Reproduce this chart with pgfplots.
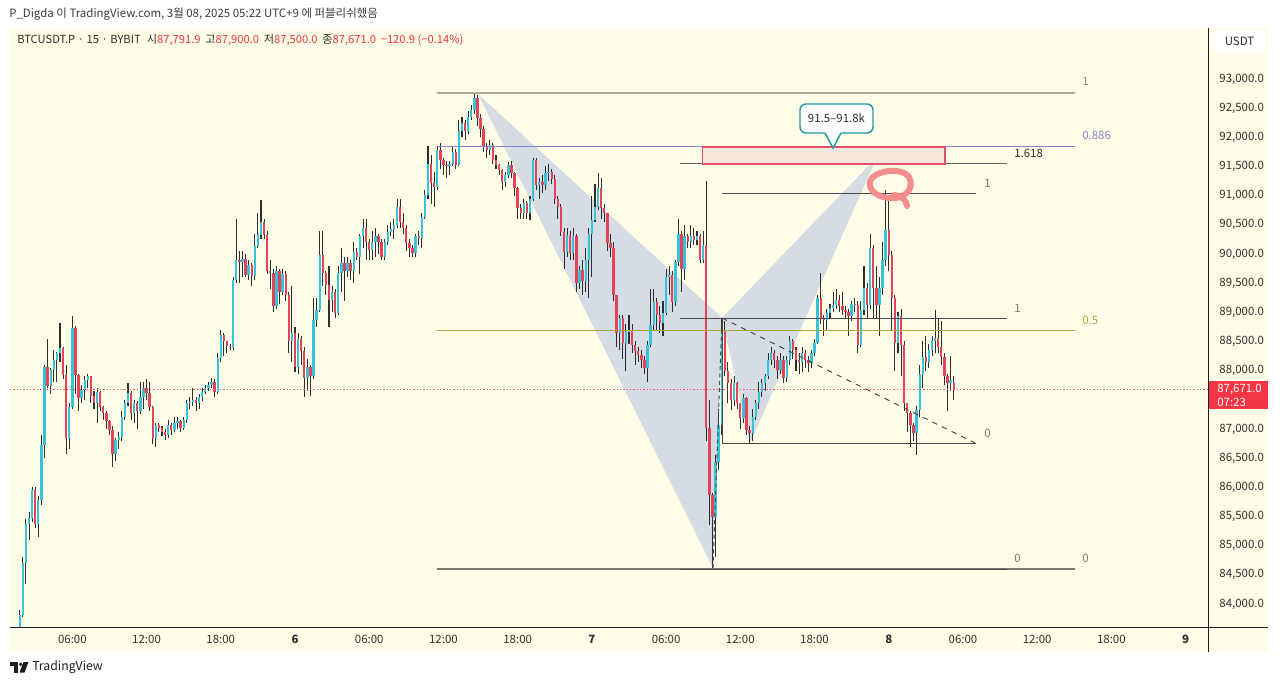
\documentclass[border=0pt]{standalone}
\usepackage{fontspec}
\setmainfont{Noto Sans CJK KR}
\usepackage{pgfplots}
\usepackage{pgfplotstable}
\pgfplotsset{compat=1.18}
\definecolor{bgy}{HTML}{FFFDE8}
\definecolor{upc}{HTML}{38C2D8}
\definecolor{dnc}{HTML}{E5435A}
\definecolor{wickc}{HTML}{2E2E2E}
\definecolor{txt}{HTML}{2E2E2E}
\definecolor{hdr}{HTML}{3C3C3C}
\definecolor{pr}{HTML}{F23645}
\definecolor{shadec}{HTML}{D5DCE3}
\definecolor{fibtop}{HTML}{A9A99B}
\definecolor{fib886}{HTML}{8585CC}
\definecolor{fib05}{HTML}{A8A83C}
\definecolor{fibzero}{HTML}{77776E}
\definecolor{dk}{HTML}{4A4A4A}
\definecolor{boxfill}{HTML}{F7E6DC}
\definecolor{boxred}{HTML}{E2506A}
\definecolor{callout}{HTML}{2596A2}
\definecolor{pinkq}{HTML}{F38D8E}
\definecolor{axl}{HTML}{1E1E1E}

\pgfplotstableread{
i o h l c
0 83610 83900 83500 83810
1 83810 84800 83780 84700
2 84700 85450 84350 85380
3 85380 85580 85100 85470
4 85470 86000 85400 85950
5 85950 86000 85300 85380
6 85380 85850 85150 85780
7 85780 86900 85700 86720
8 86720 88100 86500 88070
9 88070 88550 87700 87730
10 87730 88050 87600 88010
11 88010 88350 87800 88180
12 88180 88320 87800 88300
13 88300 88810 88150 88380
14 88380 88400 87850 87930
15 87930 88100 86580 86840
16 86840 87450 86650 87380
17 87380 88930 87350 88725
18 88725 88760 87600 87930
19 87930 87950 87300 87530
20 87530 87750 87450 87670
21 87670 87900 87500 87840
22 87840 87950 87700 87900
23 87900 87900 87450 87560
24 87560 87650 87350 87440
25 87440 87700 87100 87640
26 87640 87650 87300 87380
27 87380 87400 87150 87270
28 87270 87300 87000 87130
29 87130 87150 86900 86990
30 86990 87050 86350 86580
31 86580 86850 86450 86810
32 86810 86950 86650 86870
33 86870 87300 86800 87210
34 87210 87500 87150 87440
35 87440 87780 87400 87610
36 87610 87650 87150 87270
37 87270 87500 87100 87440
38 87440 87480 87000 87300
39 87300 87800 87250 87550
40 87550 87800 87350 87700
41 87700 87850 87500 87610
42 87610 87800 87300 87380
43 87380 87400 86750 86840
44 86840 87100 86700 87070
45 87070 87100 86950 87010
46 87010 87050 86880 86950
47 86950 87000 86820 86900
48 86900 87150 86850 87070
49 87070 87100 86900 86980
50 86980 87200 86950 87100
51 87100 87200 87000 87130
52 87130 87150 86950 87010
53 87010 87200 86980 87150
54 87150 87500 87100 87440
55 87440 87550 87350 87470
56 87470 87700 87400 87490
57 87490 87550 87300 87440
58 87440 87600 87350 87550
59 87550 87700 87480 87640
60 87640 87750 87600 87700
61 87700 87800 87650 87750
62 87750 87870 87700 87810
63 87810 87850 87550 87640
64 87640 88300 87600 88210
65 88210 88700 88150 88610
66 88610 88650 88250 88500
67 88500 88500 88300 88420
68 88420 88450 88350 88400
69 88400 89600 88350 89550
70 89550 90600 89500 89900
71 89900 90050 89500 89870
72 89870 90050 89600 89920
73 89920 90000 89600 89640
74 89640 89900 89550 89810
75 89810 89850 89450 89620
76 89620 90350 89550 90130
77 90130 90700 90100 90330
78 90330 90930 90250 90550
79 90550 90600 90250 90330
80 90330 90400 89650 89700
81 89700 89900 89400 89680
82 89680 89750 89000 89100
83 89100 89800 89050 89700
84 89700 89750 89150 89350
85 89350 89750 89300 89650
86 89650 89700 89200 89300
87 89300 89350 88300 88500
88 88500 89450 88150 88640
89 88640 88750 87980 88070
90 88070 88650 87950 88550
91 88550 88600 88100 88330
92 88330 88400 87550 87870
93 87870 88200 87650 88070
94 88070 88100 87560 87900
95 87900 89250 87850 88870
96 88870 89250 88750 89040
97 89040 90400 89000 89980
98 89980 90400 89450 89670
99 89670 89700 89300 89470
100 89470 89800 88750 89210
101 89210 89450 89000 89350
102 89350 89400 88900 88980
103 88980 89800 88950 89670
104 89670 90100 89350 89840
105 89840 89950 89200 89700
106 89700 89950 89600 89840
107 89840 89900 89550 89700
108 89700 90200 89500 90040
109 90040 90100 89900 89950
110 89950 90350 89650 90300
111 90300 90600 90100 90440
112 90440 90600 89900 90210
113 90210 90250 89900 90070
114 90070 90400 89900 90200
115 90200 90450 89950 90300
116 90300 90350 90000 90210
117 90210 90250 89900 89950
118 89950 90250 89900 90210
119 90210 90500 90150 90380
120 90380 90550 90300 90430
121 90430 90600 90250 90500
122 90500 90950 90450 90810
123 90810 90950 90450 90550
124 90550 90700 90350 90440
125 90440 90500 90050 90180
126 90180 90250 89950 90100
127 90100 90150 89950 90010
128 90010 90350 89950 90300
129 90300 90400 90150 90270
130 90270 90700 90100 90640
131 90640 91100 90600 91010
132 91010 91850 90950 91550
133 91550 91700 90850 91210
134 91210 91400 90800 91150
135 91150 91850 91100 91780
136 91780 91900 91450 91610
137 91610 91650 91350 91530
138 91530 91600 91300 91500
139 91500 91600 91350 91550
140 91550 91850 91500 91750
141 91750 91800 91450 91530
142 91530 92300 91500 92100
143 92100 92350 92000 92240
144 92240 92300 91950 92100
145 92100 92450 92050 92350
146 92350 92550 92300 92470
147 92470 92780 92400 92680
148 92680 92720 92200 92330
149 92330 92400 92000 92150
150 92150 92200 91750 91840
151 91840 91900 91650 91780
152 91780 91950 91700 91870
153 91870 91900 91550 91610
154 91610 91700 91450 91530
155 91530 91550 91350 91440
156 91440 91450 91100 91240
157 91240 91400 91150 91350
158 91350 91580 91300 91530
159 91530 91600 91300 91380
160 91380 91400 91000 91130
161 91130 91150 90600 90780
162 90780 90850 90600 90700
163 90700 90950 90600 90870
164 90870 90900 90600 90700
165 90700 91000 90580 90950
166 90950 91650 90900 91610
167 91610 91650 91100 91180
168 91180 91300 90950 91230
169 91230 91350 91050 91180
170 91180 91500 91100 91380
171 91380 91550 91250 91400
172 91400 91450 91200 91290
173 91290 91350 90850 90950
174 90950 91000 90600 90810
175 90810 90850 90300 90380
176 90380 90450 89750 90040
177 90040 90450 89950 90330
178 90330 90400 89900 90010
179 90010 90450 89900 90300
180 90300 90350 89350 89500
181 89500 89800 89400 89730
182 89730 89900 89300 89530
183 89530 90100 89350 89900
184 89900 90450 89250 90350
185 90350 91000 89600 90580
186 90580 91200 90550 90810
187 90810 91380 90750 91130
188 91130 91300 90600 90780
189 90780 90850 90550 90700
190 90700 90700 90050 90180
191 90180 90350 89950 90100
192 90100 90200 89200 89300
193 89300 89300 88400 88640
194 88640 88950 88350 88900
195 88900 88950 88200 88470
196 88470 88800 88000 88670
197 88670 88950 88450 88700
198 88700 88800 88300 88440
199 88440 88500 88100 88330
200 88330 88400 88150 88270
201 88270 88350 88050 88180
202 88180 88250 87950 88040
203 88040 88500 87800 88440
204 88440 89400 88400 88780
205 88780 89400 88700 89180
206 89180 89250 88700 88950
207 88950 89100 88650 88810
208 88810 89200 88600 88980
209 88980 89750 88950 89610
210 89610 89800 89300 89640
211 89640 89700 89000 89180
212 89180 89900 89100 89870
213 89870 90600 89800 90350
214 90350 90400 89350 89750
215 89750 90500 89550 90300
216 90300 90350 90100 90210
217 90210 90500 90100 90300
218 90300 90450 90150 90240
219 90240 90400 90150 90300
220 90300 90350 89850 89900
221 89900 90400 89850 90150
222 90150 91250 86800 87010
223 87010 87500 85350 85870
224 85870 85900 84600 85490
225 85490 86550 84800 86440
226 86440 87350 86300 87070
227 87070 88890 86900 88700
228 88700 88850 87900 88000
229 88000 88150 87440 87780
230 87780 87850 87330 87500
231 87500 87900 87400 87780
232 87780 87800 87350 87440
233 87440 87450 87000 87180
234 87180 87600 87100 87530
235 87530 87550 86900 86980
236 86980 87050 86750 86930
237 86930 87350 86800 87210
238 87210 87500 87150 87440
239 87440 87800 87350 87640
240 87640 87850 87550 87780
241 87780 87950 87650 87900
242 87900 88300 87850 88180
243 88180 88400 88100 88310
244 88310 88350 88050 88180
245 88180 88250 87850 88010
246 88010 88300 87950 88180
247 88180 88250 87780 87870
248 87870 88250 87800 88180
249 88180 88600 88100 88500
250 88500 88550 88200 88350
251 88350 88400 88000 88180
252 88180 88300 87950 88150
253 88150 88400 87980 88310
254 88310 88350 88050 88180
255 88180 88250 87980 88130
256 88130 88350 88050 88310
257 88310 88550 88250 88470
258 88470 89300 88450 89240
259 89240 89670 88800 88900
260 88900 88950 88600 88870
261 88870 89050 88700 88980
262 88980 89150 88900 89070
263 89070 89350 89000 89130
264 89130 89400 89050 89210
265 89210 89300 89000 89100
266 89100 89350 88950 89040
267 89040 89100 88900 89010
268 89010 89050 88600 88930
269 88930 89200 88850 89150
270 89150 89250 89000 89130
271 89130 89200 88300 88440
272 88440 89200 88400 89040
273 89040 89800 88950 89410
274 89410 89500 88900 89130
275 89130 90350 89050 90100
276 90100 90150 88900 89410
277 89410 89800 88900 89130
278 89130 89600 88600 89410
279 89410 90200 89300 89900
280 89900 91100 89800 90410
281 90410 90900 89700 89980
282 89980 90050 88700 89240
283 89240 89300 88000 88470
284 88470 89000 88300 88930
285 88930 89050 87900 88440
286 88440 88500 87300 87440
287 87440 87450 86950 87270
288 87270 87300 86700 87070
289 87070 87100 86800 86930
290 86930 87400 86550 87330
291 87330 88100 87200 87950
292 87950 88500 87700 88240
293 88240 88600 88000 88150
294 88150 88450 88050 88350
295 88350 88600 88250 88500
296 88500 89040 88300 88560
297 88560 88900 88300 88410
298 88410 88850 88100 88240
299 88240 88300 87750 87900
300 87900 87950 87300 87780
301 87780 88250 87650 87840
302 87792 87900 87500 87671
}\candles

\begin{document}
\begin{tikzpicture}
\fill[white] (0pt,0pt) rectangle (960pt,513.75pt);
\begin{scope}[shift={(0pt,513.75pt)}, x=0.75pt, y=-0.75pt]
  \fill[bgy] (10,28) rectangle (1268,652);
\end{scope}
\begin{axis}[
  at={(7.5pt,43.5pt)}, anchor=south west,
  scale only axis, width=898.5pt, height=450pt,
  xmin=0.96, xmax=97.81, ymin=83606, ymax=93891,
  scaled y ticks=false, scaled x ticks=false,
  axis line style={draw=none},
  tick style={draw=none}, major tick length=0pt,
  xtick={6,12,...,96},
  xticklabels={06:00,12:00,18:00,\textbf{6},06:00,12:00,18:00,\textbf{7},06:00,12:00,18:00,\textbf{8},06:00,12:00,18:00,\textbf{9}},
  ytick={84000,84500,85000,85500,86000,86500,87000,88000,88500,89000,89500,90000,90500,91000,91500,92000,92500,93000},
  yticklabels={{84,000.0},{84,500.0},{85,000.0},{85,500.0},{86,000.0},{86,500.0},{87,000.0},{88,000.0},{88,500.0},{89,000.0},{89,500.0},{90,000.0},{90,500.0},{91,000.0},{91,500.0},{92,000.0},{92,500.0},{93,000.0}},
  yticklabel pos=right,
  ticklabel style={font=\fontsize{8.6pt}{10pt}\selectfont, text=txt},
  yticklabel style={anchor=west, xshift=5pt},
  xticklabel style={anchor=center, yshift=-9pt},
]
% harmonic triangles
\fill[shadec] (38.79,92743) -- (57.79,84617) -- (58.52,88903) -- cycle;
\fill[shadec] (58.52,88903) -- (60.78,86760) -- (71.05,91663) -- cycle;
% wicks
\addplot[wickc, line width=0.8pt, mark=none,
  quiver={u=0, v={\thisrow{h}-\thisrow{l}}}]
  table[x expr=1.75+0.25*\thisrow{i}, y=l] {\candles};
% up bodies
\addplot[upc, line width=1.75pt, mark=none,
  restrict expr to domain={\thisrow{c}-\thisrow{o}}{0:100000},
  quiver={u=0, v={max(\thisrow{c}-\thisrow{o},15)}}]
  table[x expr=1.75+0.25*\thisrow{i}, y=o] {\candles};
% down bodies
\addplot[dnc, line width=1.75pt, mark=none,
  restrict expr to domain={\thisrow{o}-\thisrow{c}}{1:100000},
  quiver={u=0, v={\thisrow{o}-\thisrow{c}}}]
  table[x expr=1.75+0.25*\thisrow{i}, y=c] {\candles};
% fib 1
\draw[fibtop, line width=1.0pt] (35.48,92760) -- (87.06,92760);
\draw[fib886, line width=0.75pt] (35.48,91834) -- (87.06,91834);
\draw[fib05, line width=0.75pt] (35.48,88680) -- (87.06,88680);
\draw[fibzero, line width=0.8pt] (35.48,84600) -- (87.06,84600);
% fib 2
\draw[dk!85, line width=0.75pt] (55.12,91543) -- (81.56,91543);
\draw[dk, line width=0.75pt] (55.12,88886) -- (81.56,88886);
\draw[dk, line width=0.75pt] (55.12,84600) -- (81.56,84600);
% range lines
\draw[dk, line width=0.75pt] (58.52,91029) -- (79.05,91029);
\draw[dk, line width=0.75pt] (58.52,86760) -- (79.05,86760);
\draw[dk, line width=0.75pt] (58.52,88886) -- (58.52,86760);
% dashed lines
\draw[dk, line width=0.75pt, dash pattern=on 3pt off 2.5pt] (57.79,84617) -- (58.52,88903);
\draw[dk, line width=0.75pt, dash pattern=on 4pt off 4pt] (58.52,88903) -- (78.97,86760);
% target box
\filldraw[fill=boxfill, draw=boxred, line width=0.8pt] (56.98,91543) rectangle (76.55,91834);
% current price dotted line
\draw[pr!85, line width=0.75pt, dash pattern=on 0.9pt off 1.6pt] (0.96,87671) -- (97.81,87671);
\end{axis}
\begin{scope}[shift={(0pt,513.75pt)}, x=0.75pt, y=-0.75pt,
  every node/.style={inner sep=0pt, font=\fontsize{8.6pt}{10pt}\selectfont}]
  % axis separators
  \draw[axl, line width=0.75pt] (1208,28) -- (1208,652);
  \draw[axl, line width=0.75pt] (10,627) -- (1268,627);
  % header
  \node[anchor=west, text=hdr, font=\fontsize{8.6pt}{10pt}\selectfont] at (9,14) {P\_Digda 이 TradingView.com, 3월 08, 2025 05:22 UTC+9 에 퍼블리쉬했음};
  \node[anchor=west, text=txt, font=\fontsize{8.4pt}{10pt}\selectfont] at (17,40) {BTCUSDT.P · 15 · BYBIT\hspace{4.5pt}시{\color{pr}87,791.9}\hspace{3.5pt}고{\color{pr}87,900.0}\hspace{3.5pt}저{\color{pr}87,500.0}\hspace{3.5pt}종{\color{pr}87,671.0}\hspace{3.5pt}{\color{pr}−120.9 (−0.14\%)}};
  % USDT box
  \fill[white, rounded corners=3pt] (1213,30) rectangle (1266,52);
  \node[text=txt] at (1239.5,41) {USDT};
  % current price label
  \fill[pr] (1209,381) rectangle (1268,409);
  \node[anchor=west, text=white] at (1217,389) {87,671.0};
  \node[anchor=west, text=white] at (1217,402) {07:23};
  % fib labels
  \node[anchor=west, text=fibtop!80!black] at (1082,81) {1};
  \node[anchor=west, text=fib886] at (1082,135) {0.886};
  \node[anchor=west, text=fib05] at (1082,320) {0.5};
  \node[anchor=west, text=fibzero] at (1082,558) {0};
  \node[anchor=west, text=txt] at (1014,153) {1.618};
  \node[anchor=west, text=fibzero] at (1014,308) {1};
  \node[anchor=west, text=fibzero] at (1014,558) {0};
  \node[anchor=west, text=fibzero] at (984,183) {1};
  \node[anchor=west, text=fibzero] at (984,433) {0};
  % callout
  \draw[callout, line width=1.1pt, fill=white, rounded corners=4.5pt] (800,104) rectangle (873,133);
  \fill[white] (824.5,131.6) -- (833,148) -- (841.5,131.6) -- cycle;
  \draw[callout, line width=1.1pt, line join=miter] (825,133) -- (833,148) -- (841,133);
  \node[text=txt] at (836.5,118) {91.5–91.8k};
  % pink scribble
  \draw[pinkq, line width=4.5pt, line cap=round, line join=round]
    (870,186) .. controls (866,172) and (900,165) .. (909,177)
    .. controls (915,188) and (905,199) .. (892,198)
    .. controls (880,198) and (872,193) .. (870,186);
  \draw[pinkq, line width=4.5pt, line cap=round]
    (894,195) .. controls (902,196) and (906,200) .. (907,206);
  % bottom logo
  \fill[axl] (10,662) rectangle (17.5,665.5);
  \fill[axl] (14,662) rectangle (17.5,672.5);
  \fill[axl] (20.7,664.2) circle (1.9);
  \fill[axl] (23.5,662) -- (28.5,662) -- (24.5,672.5) -- (19.5,672.5) -- cycle;
  \node[anchor=west, text=axl, font=\fontsize{9.2pt}{10pt}\selectfont] at (32,667.5) {TradingView};
\end{scope}
\end{tikzpicture}
\end{document}
